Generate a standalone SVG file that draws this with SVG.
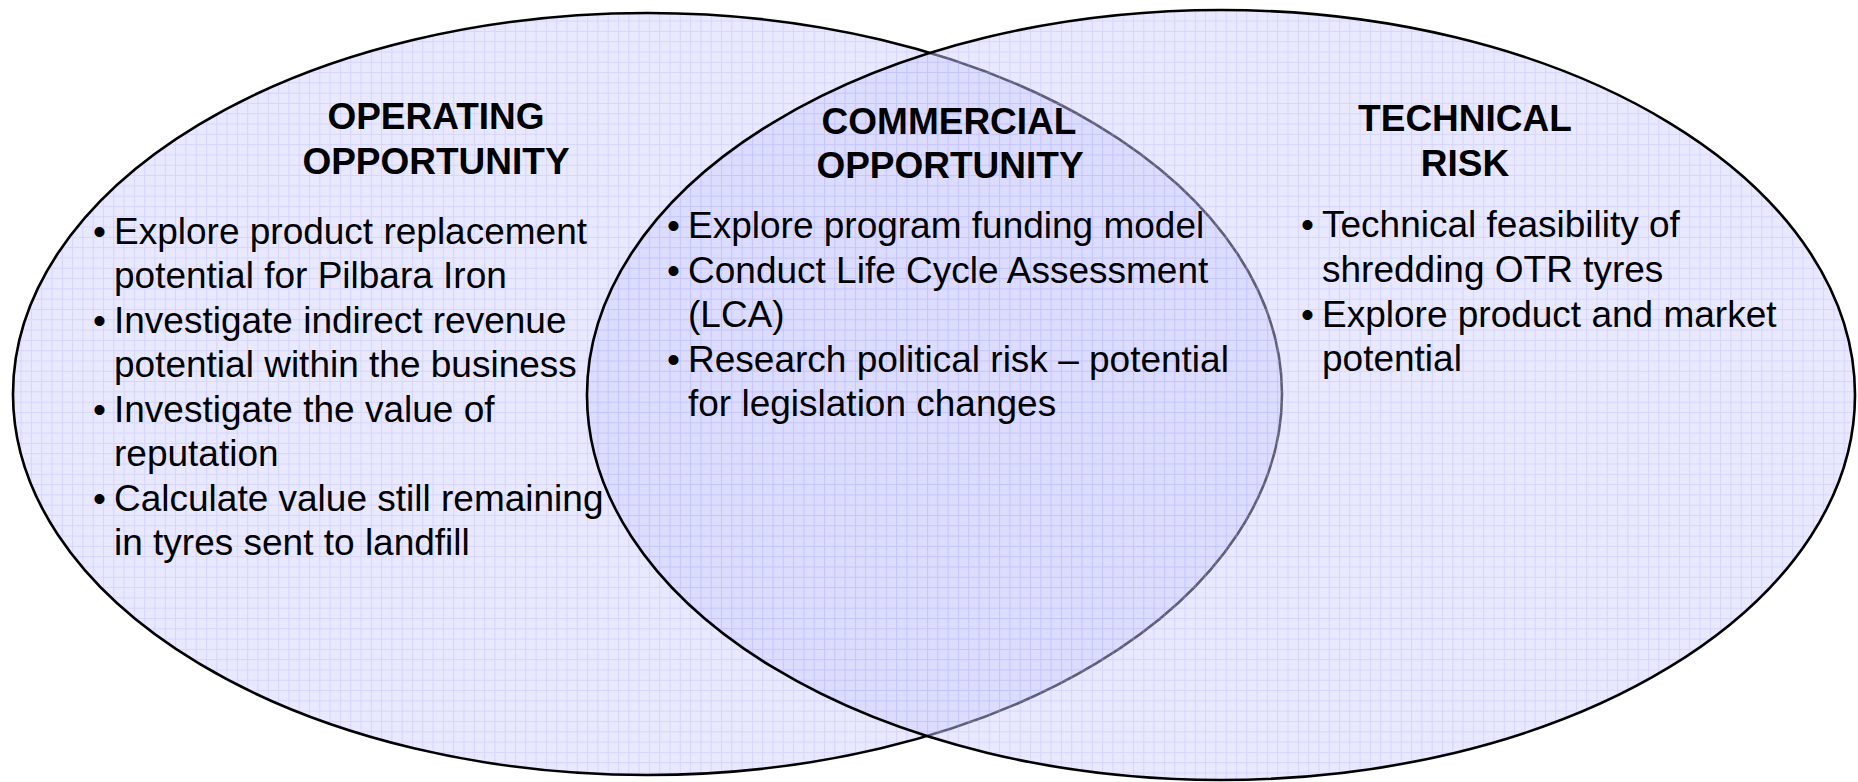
<svg xmlns="http://www.w3.org/2000/svg" width="1858" height="782" viewBox="0 0 1858 782">
<style>
.t{font-family:"Liberation Sans",Arial,sans-serif;font-size:37px;fill:#000}
.h{font-weight:bold;text-anchor:middle}
.ell{stroke:#000;stroke-width:2.6}
</style>
<defs>
<pattern id="grid" patternUnits="userSpaceOnUse" width="10.3" height="10.3">
<rect width="10.3" height="10.3" fill="rgba(204,204,255,0.46)"/>
<path d="M0 0.5H10.3M0.5 0V10.3" stroke="rgba(170,170,255,0.30)" stroke-width="1" fill="none"/>
</pattern>
</defs>
<rect width="1858" height="782" fill="#fff"/>
<g id="operating">
<ellipse class="ell" cx="647.5" cy="394" rx="634.5" ry="381" fill="url(#grid)"/>
</g>
<g id="technical">
<ellipse class="ell" cx="1221" cy="395" rx="634" ry="385" fill="url(#grid)"/>
</g>
<g id="operating-text">
<text class="t h" x="436" y="129">OPERATING</text>
<text class="t h" x="436" y="174">OPPORTUNITY</text>
<text class="t" x="93" y="244">•</text>
<text class="t" x="114" y="244">Explore product replacement</text>
<text class="t" x="114" y="288">potential for Pilbara Iron</text>
<text class="t" x="93" y="333">•</text>
<text class="t" x="114" y="333">Investigate indirect revenue</text>
<text class="t" x="114" y="377">potential within the business</text>
<text class="t" x="93" y="422">•</text>
<text class="t" x="114" y="422">Investigate the value of</text>
<text class="t" x="114" y="466">reputation</text>
<text class="t" x="93" y="511">•</text>
<text class="t" x="114" y="511">Calculate value still remaining</text>
<text class="t" x="114" y="555">in tyres sent to landfill</text>
</g>
<g id="commercial">
<text class="t h" x="949" y="134">COMMERCIAL</text>
<text class="t h" x="950" y="178">OPPORTUNITY</text>
<text class="t" x="667" y="238">•</text>
<text class="t" x="688" y="238">Explore program funding model</text>
<text class="t" x="667" y="283">•</text>
<text class="t" x="688" y="283">Conduct Life Cycle Assessment</text>
<text class="t" x="688" y="327">(LCA)</text>
<text class="t" x="667" y="372">•</text>
<text class="t" x="688" y="372">Research political risk – potential</text>
<text class="t" x="688" y="416">for legislation changes</text>
</g>
<g id="technical-text">
<text class="t h" x="1465" y="131">TECHNICAL</text>
<text class="t h" x="1465" y="176">RISK</text>
<text class="t" x="1301" y="237">•</text>
<text class="t" x="1322" y="237">Technical feasibility of</text>
<text class="t" x="1322" y="282">shredding OTR tyres</text>
<text class="t" x="1301" y="327">•</text>
<text class="t" x="1322" y="327">Explore product and market</text>
<text class="t" x="1322" y="371">potential</text>
</g>
<g id="connectors"/>
</svg>
